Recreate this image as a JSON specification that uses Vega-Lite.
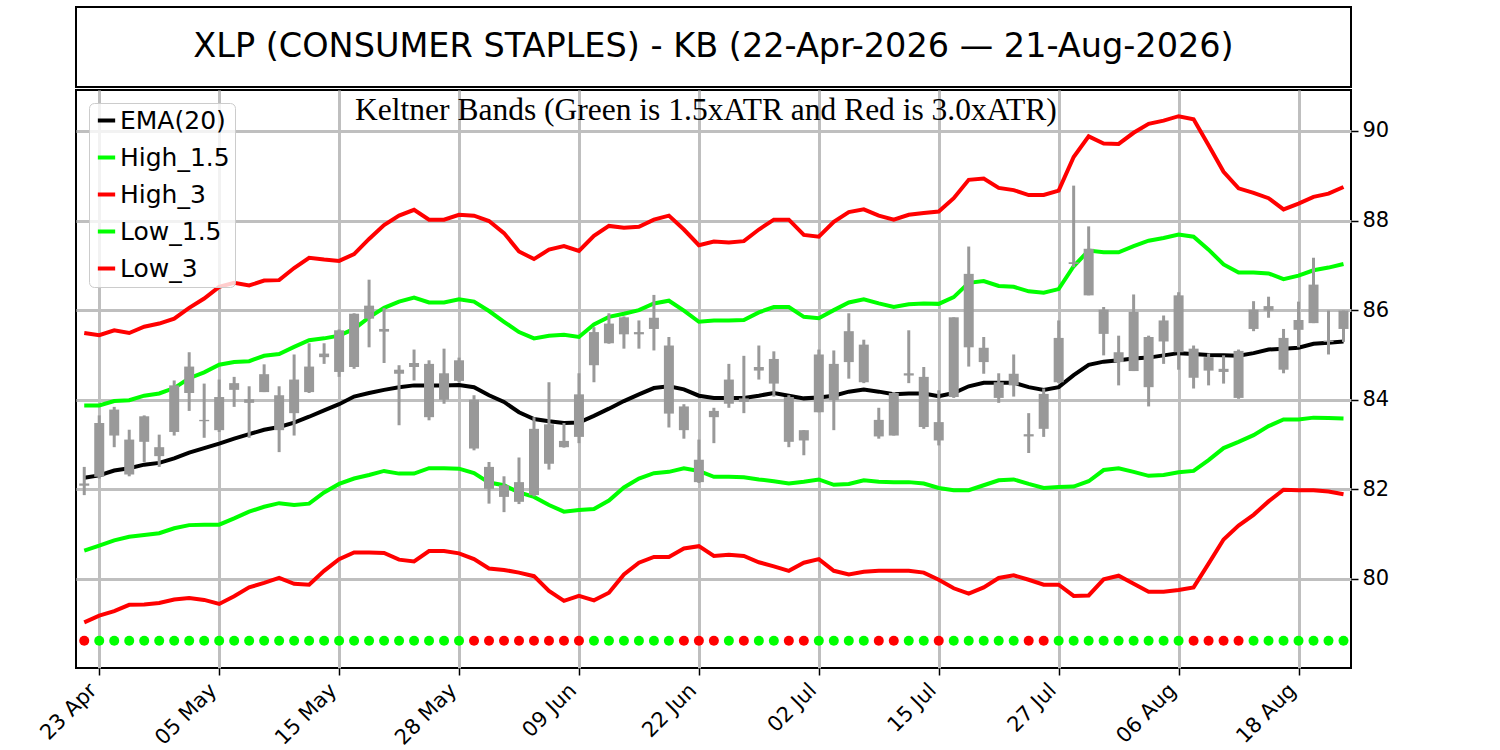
{
  "$schema": "https://vega.github.io/schema/vega-lite/v6.json",
  "background": "white",
  "padding": {"left": 35, "top": 5, "right": 0, "bottom": 0},
  "spacing": 0,
  "resolve": {"scale": {"color": "independent", "fill": "independent"}, "legend": {"color": "independent", "fill": "independent"}},
  "config": {
    "font": "DejaVu Sans",
    "view": {"stroke": "black", "strokeWidth": 2},
    "axis": {
      "title": null,
      "grid": true,
      "gridColor": "#bfbfbf",
      "gridWidth": 3,
      "domain": false,
      "tickColor": "black",
      "tickSize": 7,
      "tickWidth": 1.5,
      "labelFont": "DejaVu Sans",
      "labelFontSize": 21,
      "labelColor": "black"
    }
  },
  "datasets": {
    "bars": [
      {"i": 0, "open": 82.08, "high": 82.50, "low": 81.87, "close": 82.13, "ema": 82.26, "h15": 83.87, "h3": 85.49, "l15": 80.63, "l3": 79.03, "sig": "r"},
      {"i": 1, "open": 82.28, "high": 83.65, "low": 82.24, "close": 83.48, "ema": 82.31, "h15": 83.87, "h3": 85.44, "l15": 80.74, "l3": 79.18, "sig": "g"},
      {"i": 2, "open": 83.78, "high": 83.84, "low": 82.94, "close": 83.20, "ema": 82.42, "h15": 83.97, "h3": 85.55, "l15": 80.86, "l3": 79.28, "sig": "g"},
      {"i": 3, "open": 82.33, "high": 83.33, "low": 82.29, "close": 83.11, "ema": 82.47, "h15": 83.99, "h3": 85.49, "l15": 80.94, "l3": 79.42, "sig": "g"},
      {"i": 4, "open": 83.63, "high": 83.65, "low": 82.61, "close": 83.06, "ema": 82.55, "h15": 84.09, "h3": 85.63, "l15": 80.98, "l3": 79.43, "sig": "g"},
      {"i": 5, "open": 82.94, "high": 83.22, "low": 82.50, "close": 82.74, "ema": 82.59, "h15": 84.14, "h3": 85.70, "l15": 81.02, "l3": 79.46, "sig": "g"},
      {"i": 6, "open": 83.28, "high": 84.43, "low": 83.20, "close": 84.32, "ema": 82.69, "h15": 84.26, "h3": 85.81, "l15": 81.13, "l3": 79.54, "sig": "g"},
      {"i": 7, "open": 84.15, "high": 85.06, "low": 83.75, "close": 84.74, "ema": 82.82, "h15": 84.48, "h3": 86.05, "l15": 81.20, "l3": 79.57, "sig": "g"},
      {"i": 8, "open": 83.55, "high": 84.36, "low": 83.15, "close": 83.52, "ema": 82.92, "h15": 84.61, "h3": 86.26, "l15": 81.21, "l3": 79.53, "sig": "g"},
      {"i": 9, "open": 83.32, "high": 84.45, "low": 83.28, "close": 84.06, "ema": 83.02, "h15": 84.78, "h3": 86.52, "l15": 81.21, "l3": 79.44, "sig": "g"},
      {"i": 10, "open": 84.22, "high": 84.51, "low": 83.84, "close": 84.37, "ema": 83.13, "h15": 84.84, "h3": 86.61, "l15": 81.35, "l3": 79.61, "sig": "g"},
      {"i": 11, "open": 84.01, "high": 84.30, "low": 83.15, "close": 83.93, "ema": 83.23, "h15": 84.86, "h3": 86.55, "l15": 81.50, "l3": 79.81, "sig": "g"},
      {"i": 12, "open": 84.57, "high": 84.79, "low": 84.17, "close": 84.17, "ema": 83.33, "h15": 84.98, "h3": 86.66, "l15": 81.61, "l3": 79.91, "sig": "g"},
      {"i": 13, "open": 83.32, "high": 84.30, "low": 82.83, "close": 84.10, "ema": 83.39, "h15": 85.02, "h3": 86.67, "l15": 81.69, "l3": 80.02, "sig": "g"},
      {"i": 14, "open": 83.70, "high": 85.01, "low": 83.20, "close": 84.45, "ema": 83.49, "h15": 85.18, "h3": 86.94, "l15": 81.65, "l3": 79.89, "sig": "g"},
      {"i": 15, "open": 84.17, "high": 85.26, "low": 84.15, "close": 84.74, "ema": 83.62, "h15": 85.33, "h3": 87.17, "l15": 81.68, "l3": 79.87, "sig": "g"},
      {"i": 16, "open": 85.03, "high": 85.26, "low": 84.80, "close": 84.95, "ema": 83.76, "h15": 85.37, "h3": 87.13, "l15": 81.93, "l3": 80.18, "sig": "g"},
      {"i": 17, "open": 84.62, "high": 85.57, "low": 84.51, "close": 85.55, "ema": 83.90, "h15": 85.43, "h3": 87.10, "l15": 82.12, "l3": 80.44, "sig": "g"},
      {"i": 18, "open": 84.73, "high": 85.93, "low": 84.69, "close": 85.92, "ema": 84.07, "h15": 85.58, "h3": 87.25, "l15": 82.24, "l3": 80.59, "sig": "g"},
      {"i": 19, "open": 86.10, "high": 86.68, "low": 85.17, "close": 85.81, "ema": 84.15, "h15": 85.84, "h3": 87.59, "l15": 82.32, "l3": 80.59, "sig": "g"},
      {"i": 20, "open": 85.58, "high": 86.05, "low": 84.82, "close": 85.52, "ema": 84.22, "h15": 86.05, "h3": 87.90, "l15": 82.41, "l3": 80.58, "sig": "g"},
      {"i": 21, "open": 84.67, "high": 84.77, "low": 83.43, "close": 84.58, "ema": 84.28, "h15": 86.19, "h3": 88.11, "l15": 82.35, "l3": 80.43, "sig": "g"},
      {"i": 22, "open": 84.73, "high": 85.12, "low": 84.43, "close": 84.82, "ema": 84.32, "h15": 86.28, "h3": 88.24, "l15": 82.35, "l3": 80.39, "sig": "g"},
      {"i": 23, "open": 84.80, "high": 84.88, "low": 83.54, "close": 83.61, "ema": 84.32, "h15": 86.17, "h3": 88.02, "l15": 82.47, "l3": 80.62, "sig": "g"},
      {"i": 24, "open": 84.00, "high": 85.14, "low": 83.91, "close": 84.59, "ema": 84.32, "h15": 86.17, "h3": 88.02, "l15": 82.47, "l3": 80.62, "sig": "g"},
      {"i": 25, "open": 84.42, "high": 84.94, "low": 84.39, "close": 84.88, "ema": 84.33, "h15": 86.24, "h3": 88.13, "l15": 82.46, "l3": 80.57, "sig": "g"},
      {"i": 26, "open": 84.00, "high": 84.10, "low": 82.87, "close": 82.91, "ema": 84.28, "h15": 86.19, "h3": 88.11, "l15": 82.36, "l3": 80.44, "sig": "r"},
      {"i": 27, "open": 82.50, "high": 82.61, "low": 81.68, "close": 82.01, "ema": 84.10, "h15": 85.98, "h3": 87.99, "l15": 82.15, "l3": 80.23, "sig": "r"},
      {"i": 28, "open": 82.09, "high": 82.29, "low": 81.49, "close": 81.83, "ema": 83.95, "h15": 85.74, "h3": 87.72, "l15": 82.09, "l3": 80.20, "sig": "r"},
      {"i": 29, "open": 81.72, "high": 82.71, "low": 81.67, "close": 82.16, "ema": 83.72, "h15": 85.51, "h3": 87.31, "l15": 81.93, "l3": 80.14, "sig": "r"},
      {"i": 30, "open": 81.87, "high": 83.61, "low": 81.84, "close": 83.35, "ema": 83.57, "h15": 85.37, "h3": 87.14, "l15": 81.83, "l3": 80.06, "sig": "r"},
      {"i": 31, "open": 83.45, "high": 84.39, "low": 82.44, "close": 82.57, "ema": 83.52, "h15": 85.43, "h3": 87.35, "l15": 81.65, "l3": 79.73, "sig": "r"},
      {"i": 32, "open": 83.08, "high": 83.48, "low": 82.93, "close": 82.94, "ema": 83.48, "h15": 85.45, "h3": 87.43, "l15": 81.50, "l3": 79.51, "sig": "r"},
      {"i": 33, "open": 83.17, "high": 84.59, "low": 83.03, "close": 84.12, "ema": 83.49, "h15": 85.40, "h3": 87.32, "l15": 81.54, "l3": 79.62, "sig": "r"},
      {"i": 34, "open": 84.77, "high": 85.62, "low": 84.39, "close": 85.51, "ema": 83.64, "h15": 85.68, "h3": 87.66, "l15": 81.56, "l3": 79.52, "sig": "g"},
      {"i": 35, "open": 85.26, "high": 85.93, "low": 85.25, "close": 85.70, "ema": 83.80, "h15": 85.85, "h3": 87.88, "l15": 81.75, "l3": 79.69, "sig": "g"},
      {"i": 36, "open": 85.84, "high": 85.86, "low": 85.14, "close": 85.46, "ema": 83.97, "h15": 85.92, "h3": 87.84, "l15": 82.04, "l3": 80.10, "sig": "g"},
      {"i": 37, "open": 85.46, "high": 85.77, "low": 85.14, "close": 85.51, "ema": 84.12, "h15": 86.00, "h3": 87.86, "l15": 82.24, "l3": 80.36, "sig": "g"},
      {"i": 38, "open": 85.58, "high": 86.34, "low": 85.10, "close": 85.83, "ema": 84.26, "h15": 86.15, "h3": 88.02, "l15": 82.36, "l3": 80.49, "sig": "g"},
      {"i": 39, "open": 85.21, "high": 85.40, "low": 83.38, "close": 83.69, "ema": 84.30, "h15": 86.21, "h3": 88.11, "l15": 82.39, "l3": 80.49, "sig": "g"},
      {"i": 40, "open": 83.85, "high": 83.90, "low": 83.13, "close": 83.32, "ema": 84.23, "h15": 85.99, "h3": 87.80, "l15": 82.47, "l3": 80.68, "sig": "r"},
      {"i": 41, "open": 82.66, "high": 83.11, "low": 82.14, "close": 82.16, "ema": 84.09, "h15": 85.74, "h3": 87.45, "l15": 82.41, "l3": 80.73, "sig": "r"},
      {"i": 42, "open": 83.61, "high": 83.82, "low": 83.03, "close": 83.75, "ema": 84.04, "h15": 85.77, "h3": 87.53, "l15": 82.28, "l3": 80.51, "sig": "r"},
      {"i": 43, "open": 83.91, "high": 84.80, "low": 83.82, "close": 84.45, "ema": 84.04, "h15": 85.77, "h3": 87.51, "l15": 82.28, "l3": 80.54, "sig": "g"},
      {"i": 44, "open": 84.03, "high": 84.98, "low": 83.70, "close": 83.95, "ema": 84.04, "h15": 85.78, "h3": 87.54, "l15": 82.27, "l3": 80.51, "sig": "r"},
      {"i": 45, "open": 84.65, "high": 85.21, "low": 84.45, "close": 84.73, "ema": 84.09, "h15": 85.95, "h3": 87.80, "l15": 82.22, "l3": 80.37, "sig": "g"},
      {"i": 46, "open": 84.36, "high": 85.08, "low": 84.07, "close": 84.91, "ema": 84.15, "h15": 86.07, "h3": 88.02, "l15": 82.18, "l3": 80.28, "sig": "g"},
      {"i": 47, "open": 84.06, "high": 84.10, "low": 82.94, "close": 83.06, "ema": 84.09, "h15": 86.07, "h3": 88.02, "l15": 82.13, "l3": 80.18, "sig": "r"},
      {"i": 48, "open": 83.32, "high": 83.32, "low": 82.76, "close": 83.09, "ema": 84.03, "h15": 85.85, "h3": 87.68, "l15": 82.17, "l3": 80.36, "sig": "r"},
      {"i": 49, "open": 83.72, "high": 85.12, "low": 83.72, "close": 85.01, "ema": 84.05, "h15": 85.82, "h3": 87.64, "l15": 82.22, "l3": 80.44, "sig": "g"},
      {"i": 50, "open": 83.99, "high": 85.10, "low": 83.32, "close": 84.80, "ema": 84.09, "h15": 86.00, "h3": 87.97, "l15": 82.10, "l3": 80.18, "sig": "g"},
      {"i": 51, "open": 84.84, "high": 85.93, "low": 84.47, "close": 85.53, "ema": 84.18, "h15": 86.17, "h3": 88.19, "l15": 82.12, "l3": 80.10, "sig": "g"},
      {"i": 52, "open": 85.23, "high": 85.34, "low": 84.37, "close": 84.39, "ema": 84.23, "h15": 86.24, "h3": 88.25, "l15": 82.20, "l3": 80.16, "sig": "g"},
      {"i": 53, "open": 83.18, "high": 83.82, "low": 83.13, "close": 83.55, "ema": 84.18, "h15": 86.15, "h3": 88.11, "l15": 82.17, "l3": 80.18, "sig": "r"},
      {"i": 54, "open": 84.15, "high": 84.17, "low": 83.20, "close": 83.20, "ema": 84.12, "h15": 86.07, "h3": 88.02, "l15": 82.16, "l3": 80.18, "sig": "r"},
      {"i": 55, "open": 84.54, "high": 85.55, "low": 84.37, "close": 84.59, "ema": 84.14, "h15": 86.13, "h3": 88.13, "l15": 82.16, "l3": 80.18, "sig": "g"},
      {"i": 56, "open": 84.51, "high": 84.73, "low": 83.35, "close": 83.39, "ema": 84.14, "h15": 86.15, "h3": 88.17, "l15": 82.13, "l3": 80.14, "sig": "g"},
      {"i": 57, "open": 83.50, "high": 84.21, "low": 82.98, "close": 83.09, "ema": 84.08, "h15": 86.14, "h3": 88.20, "l15": 82.03, "l3": 79.98, "sig": "r"},
      {"i": 58, "open": 84.06, "high": 85.84, "low": 84.04, "close": 85.84, "ema": 84.15, "h15": 86.29, "h3": 88.50, "l15": 81.98, "l3": 79.79, "sig": "g"},
      {"i": 59, "open": 85.17, "high": 87.42, "low": 84.74, "close": 86.81, "ema": 84.30, "h15": 86.61, "h3": 88.91, "l15": 81.98, "l3": 79.67, "sig": "g"},
      {"i": 60, "open": 85.16, "high": 85.40, "low": 84.58, "close": 84.84, "ema": 84.38, "h15": 86.65, "h3": 88.94, "l15": 82.09, "l3": 79.81, "sig": "g"},
      {"i": 61, "open": 84.39, "high": 84.59, "low": 83.93, "close": 84.04, "ema": 84.38, "h15": 86.54, "h3": 88.73, "l15": 82.20, "l3": 80.02, "sig": "g"},
      {"i": 62, "open": 84.32, "high": 85.01, "low": 84.07, "close": 84.58, "ema": 84.38, "h15": 86.52, "h3": 88.68, "l15": 82.22, "l3": 80.08, "sig": "g"},
      {"i": 63, "open": 83.23, "high": 83.70, "low": 82.81, "close": 83.18, "ema": 84.28, "h15": 86.42, "h3": 88.57, "l15": 82.12, "l3": 79.98, "sig": "r"},
      {"i": 64, "open": 83.35, "high": 84.25, "low": 83.17, "close": 84.13, "ema": 84.22, "h15": 86.39, "h3": 88.57, "l15": 82.03, "l3": 79.87, "sig": "r"},
      {"i": 65, "open": 84.39, "high": 85.77, "low": 84.37, "close": 85.38, "ema": 84.28, "h15": 86.47, "h3": 88.67, "l15": 82.05, "l3": 79.87, "sig": "g"},
      {"i": 66, "open": 87.03, "high": 88.78, "low": 86.96, "close": 87.07, "ema": 84.55, "h15": 86.98, "h3": 89.42, "l15": 82.06, "l3": 79.62, "sig": "g"},
      {"i": 67, "open": 87.37, "high": 87.87, "low": 86.33, "close": 86.33, "ema": 84.78, "h15": 87.33, "h3": 89.88, "l15": 82.18, "l3": 79.63, "sig": "g"},
      {"i": 68, "open": 86.01, "high": 86.07, "low": 84.99, "close": 85.47, "ema": 84.85, "h15": 87.29, "h3": 89.72, "l15": 82.43, "l3": 79.99, "sig": "g"},
      {"i": 69, "open": 85.06, "high": 85.43, "low": 84.32, "close": 84.84, "ema": 84.88, "h15": 87.29, "h3": 89.71, "l15": 82.47, "l3": 80.07, "sig": "g"},
      {"i": 70, "open": 84.64, "high": 86.35, "low": 84.64, "close": 85.96, "ema": 84.92, "h15": 87.43, "h3": 89.96, "l15": 82.39, "l3": 79.89, "sig": "g"},
      {"i": 71, "open": 85.40, "high": 85.43, "low": 83.85, "close": 84.28, "ema": 84.94, "h15": 87.55, "h3": 90.16, "l15": 82.30, "l3": 79.71, "sig": "g"},
      {"i": 72, "open": 85.30, "high": 85.88, "low": 84.80, "close": 85.77, "ema": 84.99, "h15": 87.61, "h3": 90.23, "l15": 82.32, "l3": 79.71, "sig": "g"},
      {"i": 73, "open": 85.06, "high": 86.40, "low": 84.67, "close": 86.33, "ema": 85.04, "h15": 87.69, "h3": 90.33, "l15": 82.38, "l3": 79.75, "sig": "g"},
      {"i": 74, "open": 85.14, "high": 85.21, "low": 84.25, "close": 84.49, "ema": 85.02, "h15": 87.64, "h3": 90.26, "l15": 82.41, "l3": 79.81, "sig": "r"},
      {"i": 75, "open": 84.95, "high": 85.03, "low": 84.32, "close": 84.65, "ema": 85.00, "h15": 87.35, "h3": 89.68, "l15": 82.65, "l3": 80.34, "sig": "r"},
      {"i": 76, "open": 84.69, "high": 84.99, "low": 84.36, "close": 84.62, "ema": 84.99, "h15": 87.02, "h3": 89.09, "l15": 82.92, "l3": 80.88, "sig": "r"},
      {"i": 77, "open": 85.09, "high": 85.12, "low": 84.02, "close": 84.04, "ema": 84.98, "h15": 86.84, "h3": 88.72, "l15": 83.06, "l3": 81.19, "sig": "r"},
      {"i": 78, "open": 85.58, "high": 86.20, "low": 85.53, "close": 86.01, "ema": 85.04, "h15": 86.84, "h3": 88.62, "l15": 83.21, "l3": 81.43, "sig": "g"},
      {"i": 79, "open": 86.09, "high": 86.30, "low": 85.83, "close": 85.99, "ema": 85.12, "h15": 86.82, "h3": 88.50, "l15": 83.41, "l3": 81.73, "sig": "g"},
      {"i": 80, "open": 85.38, "high": 85.58, "low": 84.59, "close": 84.67, "ema": 85.14, "h15": 86.69, "h3": 88.25, "l15": 83.56, "l3": 81.99, "sig": "g"},
      {"i": 81, "open": 85.56, "high": 86.19, "low": 85.17, "close": 85.78, "ema": 85.16, "h15": 86.77, "h3": 88.38, "l15": 83.56, "l3": 81.98, "sig": "g"},
      {"i": 82, "open": 85.71, "high": 87.17, "low": 85.71, "close": 86.57, "ema": 85.25, "h15": 86.89, "h3": 88.53, "l15": 83.60, "l3": 81.98, "sig": "g"},
      {"i": 83, "open": 85.32, "high": 85.99, "low": 85.01, "close": 85.29, "ema": 85.27, "h15": 86.95, "h3": 88.60, "l15": 83.59, "l3": 81.95, "sig": "g"},
      {"i": 84, "open": 85.58, "high": 85.99, "low": 85.29, "close": 85.99, "ema": 85.30, "h15": 87.03, "h3": 88.75, "l15": 83.58, "l3": 81.89, "sig": "g"}
    ]
  },
  "vconcat": [
    {
      "width": 1275,
      "height": 80,
      "data": {"values": [{"label": "XLP (CONSUMER STAPLES) - KB (22-Apr-2026 — 21-Aug-2026)"}]},
      "layer": [
        {
          "mark": {"type": "rect", "filled": false, "stroke": "black", "strokeWidth": 2},
          "encoding": {
            "x": {"datum": 0, "type": "quantitative", "scale": {"domain": [0, 1], "nice": false, "zero": false}, "axis": null},
            "x2": {"datum": 1},
            "y": {"datum": 0, "type": "quantitative", "scale": {"domain": [0, 1], "nice": false, "zero": false}, "axis": null},
            "y2": {"datum": 1}
          }
        },
        {
          "mark": {"type": "text", "font": "DejaVu Sans", "fontSize": 33.5, "color": "black", "align": "center", "baseline": "middle"},
          "encoding": {"text": {"field": "label", "type": "nominal"}}
        }
      ]
    },
    {
      "width": 1275,
      "height": 578,
      "data": {"name": "bars"},
      "layer": [
        {
          "transform": [{"fold": ["ema", "h15", "h3", "l15", "l3"], "as": ["band", "value"]}],
          "mark": {"type": "line", "strokeWidth": 4},
          "encoding": {
            "x": {
              "field": "i",
              "type": "quantitative",
              "scale": {"domain": [-0.55, 84.5], "nice": false, "zero": false},
              "axis": {
                "values": [1, 9, 17, 25, 33, 41, 49, 57, 65, 73, 81],
                "labelExpr": "['23 Apr','05 May','15 May','28 May','09 Jun','22 Jun','02 Jul','15 Jul','27 Jul','06 Aug','18 Aug'][round((datum.value - 1) / 8)]",
                "labelAngle": -45,
                "labelAlign": "right",
                "labelBaseline": "middle",
                "labelPadding": 12,
                "labelOffset": -6
              }
            },
            "y": {
              "field": "value",
              "type": "quantitative",
              "scale": {"domain": [78.01, 90.915], "nice": false, "zero": false},
              "axis": {"orient": "right", "values": [80, 82, 84, 86, 88, 90], "labelPadding": 4}
            },
            "color": {
              "field": "band",
              "type": "nominal",
              "scale": {
                "domain": ["ema", "h15", "h3", "l15", "l3"],
                "range": ["#000000", "#00ff00", "#ff0000", "#00ff00", "#ff0000"]
              },
              "legend": {
                "title": null,
                "orient": "top-left",
                "offset": 13,
                "symbolType": "stroke",
                "symbolStrokeWidth": 4,
                "symbolSize": 300,
                "labelFont": "DejaVu Sans",
                "labelFontSize": 25,
                "labelColor": "black",
                "labelOffset": 1,
                "rowPadding": 11,
                "padding": 5,
                "fillColor": "rgba(255,255,255,0.8)",
                "strokeColor": "#cccccc",
                "cornerRadius": 5,
                "labelExpr": "datum.value == 'ema' ? 'EMA(20)' : datum.value == 'h15' ? 'High_1.5' : datum.value == 'h3' ? 'High_3' : datum.value == 'l15' ? 'Low_1.5' : 'Low_3'"
              }
            }
          }
        },
        {
          "mark": {"type": "rule", "strokeWidth": 3, "color": "#999999"},
          "encoding": {
            "x": {"field": "i", "type": "quantitative", "scale": {"domain": [-0.55, 84.5], "nice": false, "zero": false}},
            "y": {"field": "low", "type": "quantitative", "scale": {"domain": [78.01, 90.915], "nice": false, "zero": false}},
            "y2": {"field": "high"}
          }
        },
        {
          "mark": {"type": "rule", "strokeWidth": 10, "color": "#999999"},
          "encoding": {
            "x": {"field": "i", "type": "quantitative", "scale": {"domain": [-0.55, 84.5], "nice": false, "zero": false}},
            "y": {"field": "open", "type": "quantitative", "scale": {"domain": [78.01, 90.915], "nice": false, "zero": false}},
            "y2": {"field": "close"}
          }
        },
        {
          "mark": {"type": "point", "filled": true, "size": 100, "opacity": 1, "strokeWidth": 0},
          "encoding": {
            "x": {"field": "i", "type": "quantitative", "scale": {"domain": [-0.55, 84.5], "nice": false, "zero": false}},
            "y": {"datum": 78.62, "type": "quantitative", "scale": {"domain": [78.01, 90.915], "nice": false, "zero": false}},
            "fill": {
              "field": "sig",
              "type": "nominal",
              "scale": {"domain": ["g", "r"], "range": ["#00ff00", "#ff0000"]},
              "legend": null
            }
          }
        },
        {
          "data": {"values": [{"note": "Keltner Bands (Green is 1.5xATR and Red is 3.0xATR)"}]},
          "mark": {"type": "text", "font": "Liberation Serif", "fontSize": 31.5, "color": "black", "align": "center", "baseline": "middle"},
          "encoding": {
            "x": {"datum": 41.47, "type": "quantitative", "scale": {"domain": [-0.55, 84.5], "nice": false, "zero": false}},
            "y": {"datum": 90.45, "type": "quantitative", "scale": {"domain": [78.01, 90.915], "nice": false, "zero": false}},
            "text": {"field": "note", "type": "nominal"}
          }
        }
      ]
    }
  ]
}
